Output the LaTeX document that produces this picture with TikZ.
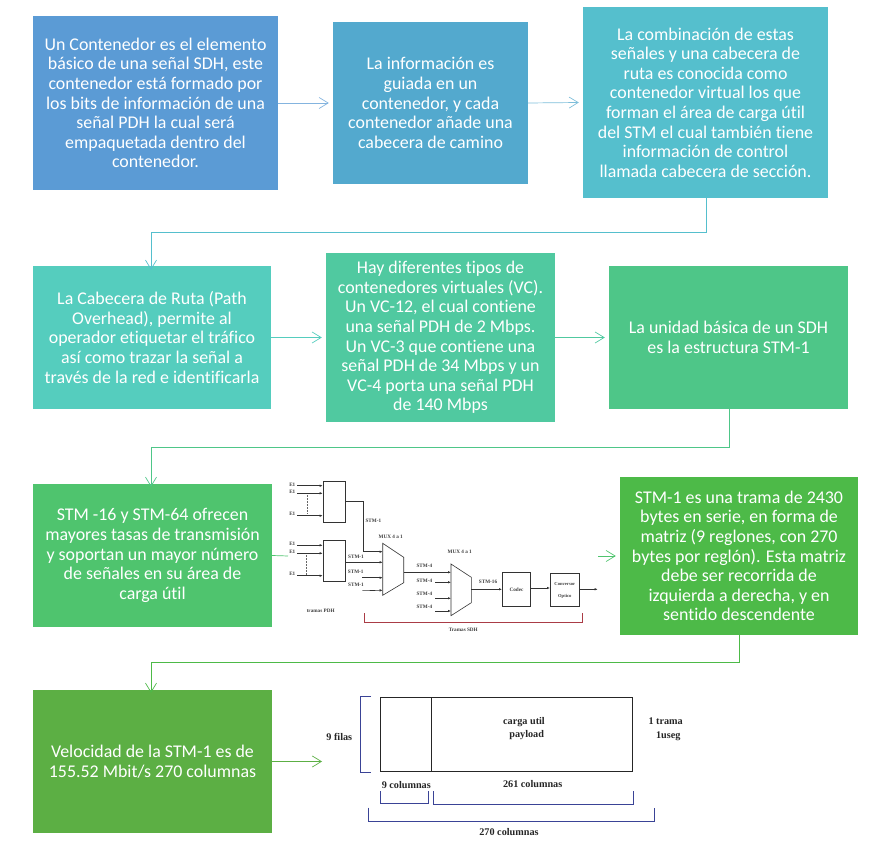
\documentclass[tikz,border=0pt]{standalone}
\usepackage{fontspec}
\setmainfont{Carlito}[Ligatures=CommonOff]
\newfontfamily\serifsmall{Liberation Serif}
\usetikzlibrary{arrows.meta}
\definecolor{cA}{HTML}{5B9BD5}
\definecolor{cB}{HTML}{53A9CE}
\definecolor{cC}{HTML}{55BFCD}
\definecolor{cD}{HTML}{55CDBE}
\definecolor{cE}{HTML}{50C9A0}
\definecolor{cF}{HTML}{4EC688}
\definecolor{cG}{HTML}{4FC46E}
\definecolor{cH}{HTML}{4DBA48}
\definecolor{cI}{HTML}{5CAF44}
\definecolor{brk}{HTML}{3A4396}
\tikzset{
 infobox/.style={align=center,text=white,inner sep=0pt,font=\fontsize{17.9}{19.6}\selectfont},
 flow/.style={line width=0.7pt,-{Straight Barb[length=9pt,width=11pt,line width=0.7pt]}},
 flowline/.style={line width=0.7pt},
 tinytext/.style={font=\serifsmall\bfseries\fontsize{5.2}{6}\selectfont,text=black!75,inner sep=0pt},
 dimtext/.style={font=\serifsmall\bfseries\fontsize{10.2}{12}\selectfont,text=black!85,inner sep=0pt},
 sig/.style={line width=0.6pt,black!80,-{Latex[length=3pt,width=2.5pt]}},
 wire/.style={line width=0.6pt,black!80},
 blockbox/.style={draw=black!80,line width=0.6pt,inner sep=0pt},
 brace/.style={draw=brk,line width=0.8pt}
}
\begin{document}
\begin{tikzpicture}[x=1pt,y=-1pt]
\useasboundingbox (0,0) rectangle (871,858);
% main boxes
\node[infobox,fill=cA,minimum width=245pt,minimum height=174pt] (b1) at (155.5,103) {Un Contenedor es el elemento\\básico de una señal SDH, este\\contenedor está formado por\\los bits de información de una\\señal PDH la cual será\\empaquetada dentro del\\contenedor.};
\node[infobox,fill=cB,minimum width=195pt,minimum height=162pt] (b2) at (430.5,103) {La información es\\guiada en un\\contenedor, y cada\\contenedor añade una\\cabecera de camino};
\node[infobox,fill=cC,minimum width=245pt,minimum height=191pt] (b3) at (705.5,102.5) {La combinación de estas\\señales y una cabecera de\\ruta es conocida como\\contenedor virtual los que\\forman el área de carga útil\\del STM el cual también tiene\\información de control\\llamada cabecera de sección.};
\node[infobox,fill=cD,minimum width=238pt,minimum height=143pt] (b4) at (152,337.5) {La Cabecera de Ruta (Path\\Overhead), permite al\\operador etiquetar el tráfico\\así como trazar la señal a\\través de la red e identificarla};
\node[infobox,fill=cE,minimum width=229pt,minimum height=169pt] (b5) at (440.5,337.5) {Hay diferentes tipos de\\contenedores virtuales (VC).\\Un VC-12, el cual contiene\\una señal PDH de 2 Mbps.\\Un VC-3 que contiene una\\señal PDH de 34 Mbps y un\\VC-4 porta una señal PDH\\de 140 Mbps};
\node[infobox,fill=cF,minimum width=239pt,minimum height=143pt] (b6) at (728.5,337.5) {La unidad básica de un SDH\\es la estructura STM-1};
\node[infobox,fill=cG,minimum width=239pt,minimum height=143pt] (b7) at (152.5,555.5) {STM -16 y STM-64 ofrecen\\mayores tasas de transmisión\\y soportan un mayor número\\de señales en su área de\\carga útil};
\node[infobox,fill=cH,minimum width=238pt,minimum height=158pt] (b8) at (739,556) {STM-1 es una trama de 2430\\bytes en serie, en forma de\\matriz (9 reglones, con 270\\bytes por reglón). Esta matriz\\debe ser recorrida de\\izquierda a derecha, y en\\sentido descendente};
\node[infobox,fill=cI,minimum width=239pt,minimum height=143pt] (b9) at (152.5,761.5) {Velocidad de la STM-1 es de\\155.52 Mbit/s 270 columnas};
% connectors
\coordinate (a34a) at (706,232); \coordinate (a34b) at (151,232);
\coordinate (a67a) at (729,447); \coordinate (a67b) at (151,447);
\coordinate (a89a) at (739,662); \coordinate (a89b) at (151,662);
\coordinate (gapL) at (288,556); \coordinate (gapR) at (598,556);
\coordinate (endNine) at (322,761.5);
\draw[flow,cA!75!white] (b1.east) -- ([xshift=-4pt]b2.west);
\draw[flow,cB!75!white] (b2.east) -- ([xshift=-4pt]b3.west);
\draw[flow,cC] (b3.south -| a34a) -- (a34a) -- (a34b) -- ([yshift=-4pt]b4.north -| a34b);
\draw[flow,cD] (b4.east) -- ([xshift=-4pt]b5.west);
\draw[flow,cE] (b5.east) -- ([xshift=-4pt]b6.west);
\draw[flow,cF] (b6.south -| a67a) -- (a67a) -- (a67b) -- ([yshift=-3pt]b7.north -| a67b);
\draw[flowline,cG] (b7.east) -- (gapL);
\draw[flow,cG] (gapR) -- ([xshift=-4pt]b8.west |- gapR);
\draw[flow,cH] (b8.south -| a89a) -- (a89a) -- (a89b) -- ([yshift=-3pt]b9.north -| a89b);
\draw[flow,cI] (b9.east) -- (endNine);
% network figure
\node[blockbox,minimum width=22.3pt,minimum height=41pt] (ba) at (334.15,501.5) {};
\node[blockbox,minimum width=22.3pt,minimum height=40.6pt] (bb) at (334.15,561) {};
\draw[blockbox] (382.7,543.3) coordinate (m1a) -- (403.7,557.3) -- (403.7,582.7) -- (382.7,595.3) -- cycle;
\draw[blockbox] (451,564) coordinate (m2a) -- (471.3,577.3) -- (471.3,602.7) -- (451,615.7) -- cycle;
\coordinate (m1in) at (382.7,551.7);
\node[blockbox,minimum width=28.4pt,minimum height=33.3pt] (codec) at (516.5,589.3) {};
\node[blockbox,minimum width=29pt,minimum height=33.4pt] (conv) at (564.8,590) {};
\node[tinytext] at (516.5,589.3) {Codec};
\node[tinytext,align=center,font=\serifsmall\bfseries\fontsize{4.6}{12}\selectfont] at (564.8,590) {Conversor\\Optico};
\foreach \n/\y/\ly in {a/485.7/484.3,b/493.3/491.7,c/515.7/514}{
  \node[tinytext] (ea\n) at (292.3,\ly) {E1};
  \coordinate (sa\n) at (297.3,\y);
  \draw[sig] (sa\n) -- (sa\n -| ba.west);
}
\foreach \n/\y/\ly in {a/545.3/543.3,b/553.3/551.7,c/575.7/574}{
  \node[tinytext] (eb\n) at (292.3,\ly) {E1};
  \coordinate (sb\n) at (297.3,\y);
  \draw[sig] (sb\n) -- (sb\n -| bb.west);
}
\coordinate (da1) at (307,495); \coordinate (da2) at (307,514);
\coordinate (db1) at (306.7,555); \coordinate (db2) at (306.7,575);
\draw[black!60,densely dotted,line width=0.5pt] (da1) -- (da2);
\draw[black!60,densely dotted,line width=0.5pt] (db1) -- (db2);
\coordinate (aout) at (363,501.7);
\draw[sig] (ba.east |- aout) -- (aout) -- (363,551.7) -- (m1in);
\coordinate (bout) at (382.7,562.3);
\draw[sig] (bb.east |- bout) -- (bout);
\coordinate (s1) at (362.3,577.7); \coordinate (s1e) at (382.7,577.7);
\coordinate (s2) at (362.3,590.7); \coordinate (s2e) at (382.7,590.3);
\draw[sig] (s1) -- (s1e);
\draw[sig] (s2) -- (s2e);
\coordinate (m1o) at (403.7,572.3); \coordinate (m2i) at (451,572.3);
\draw[sig] (m1o) -- (m2i);
\foreach \y in {582.3,598.3,611}{ \draw[sig] (435,\y) -- (451,\y); }
\coordinate (m2o) at (471.3,589.3);
\draw[sig] (m2o) -- (codec.west |- m2o);
\draw[sig] (codec.east |- 0,588) -- (conv.west |- 0,588);
\coordinate (convout) at (597.7,589.3);
\draw[sig] (conv.east |- convout) -- (convout);
\node[tinytext] at (373.3,520.7) {STM-1};
\node[tinytext] at (390.7,536.7) {MUX 4 a 1};
\node[tinytext] at (459.7,552.3) {MUX 4 a 1};
\node[tinytext] at (356,557.3) {STM-1};
\node[tinytext] at (355.7,571.7) {STM-1};
\node[tinytext] at (356,584.7) {STM-1};
\node[tinytext] at (424.3,565.7) {STM-4};
\node[tinytext] at (424.3,581.3) {STM-4};
\node[tinytext] at (424.3,594.3) {STM-4};
\node[tinytext] at (424.3,607) {STM-4};
\node[tinytext] at (488,581.7) {STM-16};
\node[tinytext] at (320.7,610.7) {tramas PDH};
\node[tinytext] at (463.3,630) {Tramas SDH};
\draw[line width=0.6pt,draw={rgb,255:red,170;green,60;blue,70}] (364.3,613.3) -- (364.3,622) -- (582.7,622) -- (582.7,613.3);
% frame figure
\node[draw=black!85,line width=0.8pt,minimum width=252.4pt,minimum height=74.7pt,inner sep=0pt] (frame) at (506.5,734.35) {};
\coordinate (divt) at (431.7,697); \coordinate (divb) at (431.7,771.7);
\draw[black!85,line width=0.8pt] (divt) -- (divb);
\draw[brace] (371,696.3) -- (360.3,696.3) -- (360.3,772.3) -- (371,772.3);
\draw[brace] (380.3,791.3) -- (380.3,803.7) -- (428,803.7) -- (428,791.3);
\draw[brace] (433,791.3) -- (433,804.3) -- (633.3,804.3) -- (633.3,791.3);
\draw[brace] (368,807.7) -- (368,821) -- (654,821) -- (654,807.7);
\node[dimtext] at (339.3,737) {9 filas};
\node[dimtext] at (524,721.7) {carga util};
\node[dimtext] at (526.7,735) {payload};
\node[dimtext] at (665.7,720.7) {1 trama};
\node[dimtext] at (668.3,736) {1useg};
\node[dimtext] at (406.3,785) {9 columnas};
\node[dimtext] at (532.7,783.7) {261 columnas};
\node[dimtext] at (509,831.7) {270 columnas};
\end{tikzpicture}
\end{document}
